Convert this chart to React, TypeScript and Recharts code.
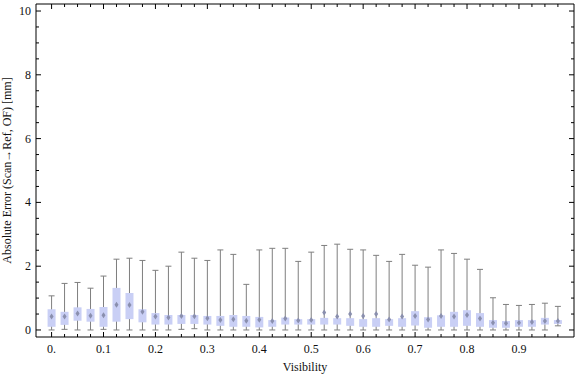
import React from 'react'
import { ComposedChart, Scatter, ErrorBar, XAxis, YAxis } from 'recharts'

const FONT = '"Liberation Serif", "Times New Roman", serif'

// visibility bins (box positions)
const visibility = [
  0, 0.025, 0.05, 0.075, 0.1, 0.125, 0.15, 0.175, 0.2, 0.225,
  0.25, 0.275, 0.3, 0.325, 0.35, 0.375, 0.4, 0.425, 0.45, 0.475,
  0.5, 0.525, 0.55, 0.575, 0.6, 0.625, 0.65, 0.675, 0.7, 0.725,
  0.75, 0.775, 0.8, 0.825, 0.85, 0.875, 0.9, 0.925, 0.95, 0.975,
]
const whiskerLow = [
  0, 0.02, 0, 0, 0.02, 0, 0, 0, 0, 0,
  0.02, 0.04, 0, 0, 0, 0, 0, 0, 0, 0,
  0, 0, 0, 0, 0, 0, 0, 0, 0, 0,
  0, 0, 0, 0, 0, 0, 0, 0, 0, 0.13,
]
const quartileLow = [
  0.1, 0.16, 0.29, 0.26, 0.1, 0.26, 0.34, 0.24, 0.17, 0.17,
  0.19, 0.19, 0.17, 0.13, 0.1, 0.1, 0.08, 0.1, 0.17, 0.17,
  0.17, 0.17, 0.17, 0.13, 0.1, 0.1, 0.13, 0.1, 0.14, 0.07,
  0.1, 0.1, 0.13, 0.1, 0.07, 0.07, 0.1, 0.1, 0.17, 0.19,
]
const means = [
  0.42, 0.42, 0.52, 0.45, 0.46, 0.79, 0.78, 0.57, 0.42, 0.39,
  0.44, 0.43, 0.37, 0.31, 0.34, 0.29, 0.32, 0.28, 0.36, 0.3,
  0.31, 0.55, 0.42, 0.5, 0.44, 0.5, 0.33, 0.42, 0.44, 0.33,
  0.44, 0.42, 0.47, 0.36, 0.23, 0.21, 0.23, 0.25, 0.28, 0.28,
]
const quartileHigh = [
  0.65, 0.57, 0.71, 0.66, 0.72, 1.32, 1.16, 0.65, 0.53, 0.47,
  0.47, 0.47, 0.44, 0.44, 0.47, 0.44, 0.41, 0.31, 0.39, 0.34,
  0.34, 0.38, 0.37, 0.37, 0.34, 0.37, 0.34, 0.37, 0.59, 0.4,
  0.46, 0.57, 0.62, 0.53, 0.31, 0.28, 0.31, 0.31, 0.38, 0.31,
]
const whiskerHigh = [
  1.07, 1.46, 1.49, 1.31, 1.69, 2.22, 2.25, 2.18, 1.87, 2.0,
  2.44, 2.25, 2.18, 2.51, 2.37, 1.43, 2.51, 2.56, 2.56, 2.15,
  2.44, 2.65, 2.69, 2.53, 2.51, 2.34, 2.15, 2.37, 2.03, 1.97,
  2.51, 2.4, 2.22, 1.9, 1.01, 0.8, 0.77, 0.8, 0.84, 0.74,
]
const yTicks = [0, 0.5, 1, 1.5, 2, 2.5, 3, 3.5, 4, 4.5, 5, 5.5, 6, 6.5, 7, 7.5, 8, 8.5, 9, 9.5, 10]

const X_DOMAIN = [-0.03, 1.006]
const Y_DOMAIN = [-0.22, 10.22]

const rows = visibility.map((v, i) => ({
  v,
  mean: means[i],
  boxMid: (quartileLow[i] + quartileHigh[i]) / 2,
  boxErr: [(quartileHigh[i] - quartileLow[i]) / 2, (quartileHigh[i] - quartileLow[i]) / 2],
  whiskerErr: [means[i] - whiskerLow[i], whiskerHigh[i] - means[i]],
}))

const xLabel = (v: number, i: number) => (i % 4 === 0 ? (v === 0 ? '0.' : v.toFixed(1)) : '')

const BottomTick = (p: any) => {
  const label = xLabel(p.payload.value, p.index)
  return (
    <g>
      <line x1={p.x} y1={p.y} x2={p.x} y2={p.y - (label ? 5 : 3)} stroke="#000" />
      {label && (
        <text x={p.x} y={p.y + 16} textAnchor="middle" fontSize={12} fontFamily={FONT} fill="#111">
          {label}
        </text>
      )}
    </g>
  )
}

const TopTick = (p: any) => (
  <line x1={p.x} y1={p.y} x2={p.x} y2={p.y + (p.index % 4 === 0 ? 5 : 3)} stroke="#000" />
)

const LeftTick = (p: any) => {
  const v = p.payload.value
  const major = v % 2 === 0
  return (
    <g>
      <line x1={p.x} y1={p.y} x2={p.x + (major ? 5 : 3)} y2={p.y} stroke="#000" />
      {major && (
        <text x={p.x - 5} y={p.y + 4} textAnchor="end" fontSize={12} fontFamily={FONT} fill="#111">
          {v}
        </text>
      )}
    </g>
  )
}

const RightTick = (p: any) => (
  <line x1={p.x} y1={p.y} x2={p.x - (p.payload.value % 2 === 0 ? 5 : 3)} y2={p.y} stroke="#000" />
)

const YLabel = (p: any) => {
  const vb = p.viewBox
  const cx = 11
  const cy = vb.y + vb.height / 2
  return (
    <text x={cx} y={cy} transform={`rotate(-90 ${cx} ${cy})`} textAnchor="middle" fontSize={12} fontFamily={FONT} fill="#111">
      Absolute Error (Scan→Ref, OF) [mm]
    </text>
  )
}

const MeanMark = (p: any) => (
  <path
    d={`M${p.cx},${p.cy - 3}L${p.cx + 2},${p.cy}L${p.cx},${p.cy + 3}L${p.cx - 2},${p.cy}Z`}
    fill="#8a8fae"
  />
)

const Empty = () => <g />

export default function App() {
  return (
    <div style={{ position: 'absolute', left: 0, top: 0, background: '#fff' }}>
      <ComposedChart width={576} height={377} data={rows} margin={{ top: 3, right: 1, bottom: 0, left: 0 }}>
        <XAxis
          dataKey="v"
          type="number"
          domain={X_DOMAIN}
          ticks={visibility}
          interval={0}
          tick={<BottomTick />}
          tickSize={0}
          tickMargin={0}
          height={40}
          stroke="#000"
          allowDataOverflow
          label={{ value: 'Visibility', position: 'insideBottom', offset: 6, fontSize: 12, fontFamily: FONT, fill: '#111' }}
        />
        <XAxis
          xAxisId="top"
          dataKey="v"
          orientation="top"
          type="number"
          domain={X_DOMAIN}
          ticks={visibility}
          interval={0}
          tick={<TopTick />}
          tickSize={0}
          tickMargin={0}
          height={1}
          stroke="#000"
          allowDataOverflow
        />
        <YAxis
          type="number"
          domain={Y_DOMAIN}
          ticks={yTicks}
          interval={0}
          tick={<LeftTick />}
          tickSize={0}
          tickMargin={0}
          width={36}
          stroke="#000"
          allowDataOverflow
          label={YLabel}
        />
        <YAxis
          yAxisId="right"
          orientation="right"
          type="number"
          domain={Y_DOMAIN}
          ticks={yTicks}
          interval={0}
          tick={<RightTick />}
          tickSize={0}
          tickMargin={0}
          width={1}
          stroke="#000"
          allowDataOverflow
        />
        <Scatter xAxisId="top" yAxisId="right" dataKey="mean" shape={<Empty />} isAnimationActive={false} />
        <Scatter dataKey="mean" shape={<Empty />} isAnimationActive={false}>
          <ErrorBar dataKey="whiskerErr" direction="y" width={3} stroke="#7f7f7f" strokeWidth={1} />
        </Scatter>
        <Scatter dataKey="boxMid" shape={<Empty />} isAnimationActive={false}>
          <ErrorBar dataKey="boxErr" direction="y" width={0} stroke="#c9cff5" strokeWidth={8} />
        </Scatter>
        <Scatter dataKey="mean" shape={<MeanMark />} isAnimationActive={false} />
      </ComposedChart>
    </div>
  )
}
